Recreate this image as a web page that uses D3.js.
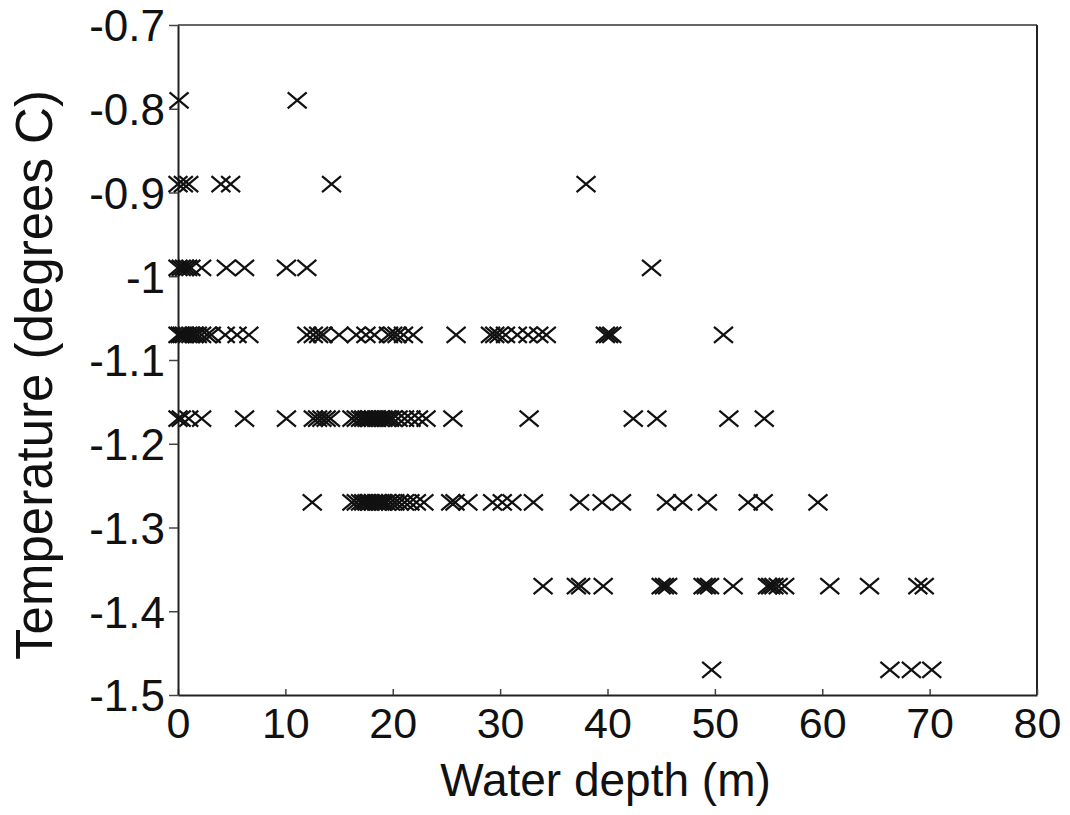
<!DOCTYPE html>
<html>
<head>
<meta charset="utf-8">
<script src="https://cdn.jsdelivr.net/npm/d3@7"></script>
<style>
  body { margin: 0; background: #fff; }
  svg text { font-family: "Liberation Sans", Arial, Helvetica, sans-serif; fill: #111; }
</style>
</head>
<body>
<div id="chart"></div>
<script>
const tempLevels = [-0.79, -0.89, -0.99, -1.07, -1.17, -1.27, -1.37, -1.47];

const depthsAt079 = [0.1, 11.1];
const depthsAt089 = [0.0, 0.5, 1.0, 4.0, 4.9, 14.3, 38.0];
const depthsAt099 = [0.0, 0.3, 0.6, 0.9, 1.2, 2.2, 4.5, 6.2, 10.1, 12.0, 44.1];
const depthsAt107 = [0.0, 0.2, 0.4, 0.6, 0.9, 1.2, 1.5, 1.8, 2.2, 2.7, 3.1, 4.4, 5.5, 6.6,
  12.0, 12.6, 13.1, 13.5, 15.0, 16.6, 17.5, 18.3, 19.6, 20.0, 20.4, 21.0, 21.9,
  25.9, 29.1, 29.5, 29.9, 30.5, 31.6, 32.6, 33.6, 34.3, 39.8, 40.1, 40.4, 50.8];
const depthsAt117 = [0.0, 0.3, 1.0, 2.2, 6.2, 10.1,
  12.6, 13.0, 13.4, 13.8, 14.2, 16.2, 16.6, 17.0, 17.3, 17.6, 17.9, 18.2, 18.5, 18.8,
  19.1, 19.4, 19.7, 20.0, 20.5, 21.1, 21.7, 22.4, 23.1,
  25.6, 32.7, 42.4, 44.6, 51.3, 54.6];
const depthsAt127 = [12.5, 16.2, 16.6, 17.0, 17.3, 17.6, 17.9, 18.2, 18.5, 18.8, 19.1,
  19.4, 19.8, 20.2, 20.6, 21.1, 21.6, 22.2, 22.9,
  25.4, 25.8, 27.0, 29.3, 30.2, 31.1, 33.1, 37.4, 39.5, 41.3,
  45.5, 47.0, 49.3, 53.1, 54.5, 59.6];
const depthsAt137 = [34.0, 37.1, 37.5, 39.6, 45.0, 45.3, 45.6, 48.9, 49.2, 49.5, 51.7,
  54.9, 55.2, 55.5, 55.9, 56.5, 60.7, 64.4, 68.9, 69.5];
const depthsAt147 = [49.7, 66.3, 68.3, 70.2];

const depthRows = [depthsAt079, depthsAt089, depthsAt099, depthsAt107,
  depthsAt117, depthsAt127, depthsAt137, depthsAt147];

const xTicks = [0, 10, 20, 30, 40, 50, 60, 70, 80];
const yTicks = [-0.7, -0.8, -0.9, -1.0, -1.1, -1.2, -1.3, -1.4, -1.5];
const yTickLabels = ["-0.7", "-0.8", "-0.9", "-1", "-1.1", "-1.2", "-1.3", "-1.4", "-1.5"];

const xTitle = "Water depth (m)";
const yTitle = "Temperature (degrees C)";

const width = 1070;
const height = 815;
const margin = { top: 25, right: 33, bottom: 120, left: 178 };

const points = [];
tempLevels.forEach((t, i) => {
  depthRows[i].forEach((d) => points.push({ depth: d, temp: t }));
});

const svg = d3
  .select("#chart")
  .append("svg")
  .attr("width", width)
  .attr("height", height);

const x = d3
  .scaleLinear()
  .domain([0, 80])
  .range([margin.left, width - margin.right]);

const y = d3
  .scaleLinear()
  .domain([-1.5, -0.7])
  .range([height - margin.bottom, margin.top]);

// frame: top and right edges
svg
  .append("line")
  .attr("x1", x(0)).attr("x2", x(80))
  .attr("y1", y(-0.7)).attr("y2", y(-0.7))
  .attr("stroke", "#666").attr("stroke-width", 2);
svg
  .append("line")
  .attr("x1", x(80)).attr("x2", x(80))
  .attr("y1", y(-0.7)).attr("y2", y(-1.5))
  .attr("stroke", "#222").attr("stroke-width", 2);

// x axis, ticks point inward
const xAxis = svg
  .append("g")
  .attr("transform", `translate(0, ${y(-1.5)})`)
  .call(d3.axisBottom(x).tickValues(xTicks).tickSizeInner(-6).tickSizeOuter(0).tickPadding(12));
xAxis.select(".domain").attr("stroke", "#222").attr("stroke-width", 2);
xAxis.selectAll(".tick line").attr("stroke", "#444").attr("stroke-width", 1.5);
xAxis.selectAll("text").style("font-size", "43px").attr("fill", "#111");

// y axis, ticks point outward
const yAxis = svg
  .append("g")
  .attr("transform", `translate(${x(0)}, 0)`)
  .call(
    d3.axisLeft(y)
      .tickValues(yTicks)
      .tickFormat((d, i) => yTickLabels[i])
      .tickSizeInner(9)
      .tickSizeOuter(0)
      .tickPadding(4)
  );
yAxis.select(".domain").attr("stroke", "#222").attr("stroke-width", 2);
yAxis.selectAll(".tick line").attr("stroke", "#444").attr("stroke-width", 1.5);
yAxis.selectAll("text").style("font-size", "44px").attr("fill", "#111").attr("dy", "0.36em");

// axis titles
svg
  .append("text")
  .attr("x", (x(0) + x(80)) / 2 - 2)
  .attr("y", 796)
  .attr("text-anchor", "middle")
  .style("font-size", "46px")
  .text(xTitle);

svg
  .append("text")
  .attr("transform", `translate(52, ${(y(-0.7) + y(-1.5)) / 2 + 15}) rotate(-90)`)
  .attr("text-anchor", "middle")
  .style("font-size", "51px")
  .text(yTitle);

// X markers
const cross = "M-9.5,-8L9.5,8M-9.5,8L9.5,-8";
svg
  .append("g")
  .selectAll("path")
  .data(points)
  .enter()
  .append("path")
  .attr("transform", (d) => `translate(${x(d.depth)}, ${y(d.temp)})`)
  .attr("d", cross)
  .attr("fill", "none")
  .attr("stroke", "#111")
  .attr("stroke-width", 2.2);
</script>
</body>
</html>
